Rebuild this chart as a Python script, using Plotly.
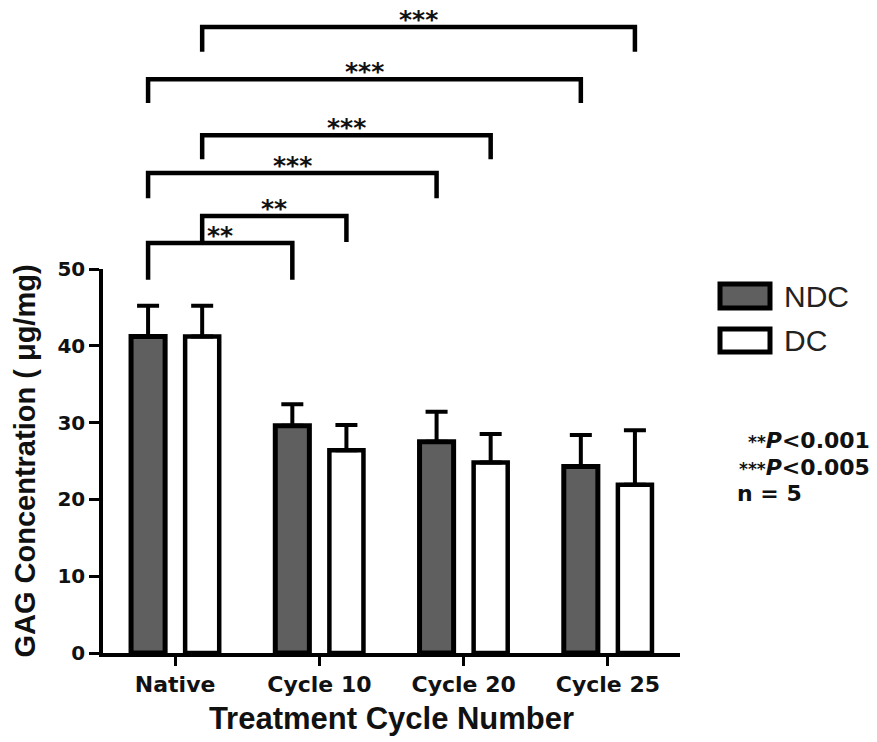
import plotly.graph_objects as go

categories = ["Native", "Cycle 10", "Cycle 20", "Cycle 25"]
ndc_mean = [41.2, 29.6, 27.5, 24.3]
ndc_err = [4.0, 2.8, 3.9, 4.1]
dc_mean = [41.2, 26.4, 24.8, 21.9]
dc_err = [4.0, 3.3, 3.7, 7.1]
y_ticks = [0, 10, 20, 30, 40, 50]

# significance brackets: (group_a, series_a, group_b, series_b, level, leg_end, label)
brackets = [
    (0, "DC", 3, "DC", 81.5, 78.3, "***"),
    (0, "NDC", 3, "NDC", 74.7, 71.6, "***"),
    (0, "DC", 2, "DC", 67.4, 64.3, "***"),
    (0, "NDC", 2, "NDC", 62.5, 59.2, "***"),
    (0, "DC", 1, "DC", 56.9, 53.5, "**"),
    (0, "NDC", 1, "NDC", 53.4, 48.6, "**"),
]

ARIAL = "Liberation Sans, Arial, sans-serif"
WIDE = "DejaVu Sans, Verdana, sans-serif"
xs = list(range(len(categories)))
series_offset = {"NDC": -0.1875, "DC": 0.1875}

PW, PH, L, B = 577, 643, 103, 89
PX_PER_UNIT = 7.68
y_max = max(y_ticks)
dom_top = y_max * PX_PER_UNIT / PH

fig = go.Figure()
fig.add_trace(go.Bar(
    x=xs, y=ndc_mean, name="NDC",
    marker=dict(color="#5f5f5f", line=dict(color="black", width=5)),
    error_y=dict(type="data", array=ndc_err, arrayminus=[0] * len(ndc_err),
                 symmetric=False, color="black", thickness=4, width=11),
    showlegend=False,
))
fig.add_trace(go.Bar(
    x=xs, y=dc_mean, name="DC",
    marker=dict(color="white", line=dict(color="black", width=4.5)),
    error_y=dict(type="data", array=dc_err, arrayminus=[0] * len(dc_err),
                 symmetric=False, color="black", thickness=4, width=11),
    showlegend=False,
))

annotations = []
for ga, sa, gb, sb, lvl, leg, lab in brackets:
    xa = ga + series_offset[sa]
    xb = gb + series_offset[sb]
    fig.add_trace(go.Scatter(
        x=[xa, xa, xb, xb], y=[leg, lvl, lvl, leg], mode="lines", yaxis="y2",
        line=dict(color="black", width=4.5), showlegend=False, hoverinfo="skip",
    ))
    annotations.append(dict(
        x=(xa + xb) / 2, y=lvl, xref="x", yref="y2", text="<b>%s</b>" % lab, showarrow=False,
        yanchor="bottom", yshift=-9, font=dict(family=WIDE, size=25, color="#111"),
    ))

shapes = []

def px2paper(px, py):
    return (px - L) / PW, (742 - B - py) / PH

# legend drawn as boxes + labels
for (y0p, y1p, fill, lw, name) in [(284, 308, "#5f5f5f", 5, "NDC"), (329, 352, "white", 5, "DC")]:
    x0, yb = px2paper(720, y1p)
    x1, yt = px2paper(770, y0p)
    shapes.append(dict(type="rect", xref="paper", yref="paper", x0=x0, x1=x1, y0=yb, y1=yt,
                       fillcolor=fill, line=dict(color="black", width=lw)))
    tx, ty = px2paper(782, (y0p + y1p) / 2)
    annotations.append(dict(x=tx, y=ty, xref="paper", yref="paper", text=name, showarrow=False,
                            xanchor="left", yanchor="middle",
                            font=dict(family=ARIAL, size=30, color="#222")))

small = "<span style='font-size:17px'>%s</span>"
for txt, py, anchor, px in [
    (small % "**" + "<i>P</i>&lt;0.001", 440, "right", 872),
    (small % "***" + "<i>P</i>&lt;0.005", 467, "right", 872),
    ("n = 5", 493, "left", 735),
]:
    tx, ty = px2paper(px, py)
    annotations.append(dict(x=tx, y=ty, xref="paper", yref="paper", text="<b>%s</b>" % txt,
                            showarrow=False, xanchor=anchor, yanchor="middle",
                            font=dict(family=WIDE, size=22, color="#111")))

fig.update_layout(
    width=877, height=742,
    margin=dict(l=L, r=877 - L - PW, t=742 - B - PH, b=B, autoexpand=False),
    paper_bgcolor="white", plot_bgcolor="rgba(0,0,0,0)",
    barmode="group", bargap=0.25, bargroupgap=0.37,
    showlegend=False,
    shapes=shapes, annotations=annotations,
    font=dict(family=ARIAL, color="#111"),
    xaxis=dict(
        range=[-0.5, 3.5], tickvals=xs, ticktext=["<b>%s</b>" % c for c in categories],
        showline=True, linecolor="black", linewidth=3.5, ticks="outside", ticklen=9,
        tickwidth=2.5, tickcolor="black", showgrid=False, zeroline=False, anchor="y",
        automargin=False,
        tickfont=dict(family=WIDE, size=22, color="#111"),
        title=dict(text="<b>Treatment Cycle Number</b>",
                   font=dict(family=ARIAL, size=31, color="#111"), standoff=12),
    ),
    yaxis=dict(
        domain=[0, dom_top], range=[0, y_max], tickvals=y_ticks,
        ticktext=["<b>%d</b>" % v for v in y_ticks],
        showline=True, linecolor="black", linewidth=3.5,
        ticks="outside", ticklen=10, tickwidth=3, tickcolor="black",
        showgrid=False, zeroline=False, anchor="x", automargin=False,
        tickfont=dict(family=WIDE, size=20, color="#111"),
        title=dict(text="<b>GAG Concentration ( μg/mg)</b>",
                   font=dict(family=ARIAL, size=29, color="#111"), standoff=14),
    ),
    yaxis2=dict(
        domain=[0, 1], range=[0, PH / PX_PER_UNIT], visible=False, anchor="x",
        showgrid=False, zeroline=False, automargin=False,
    ),
)
fig.write_html("out.html")
